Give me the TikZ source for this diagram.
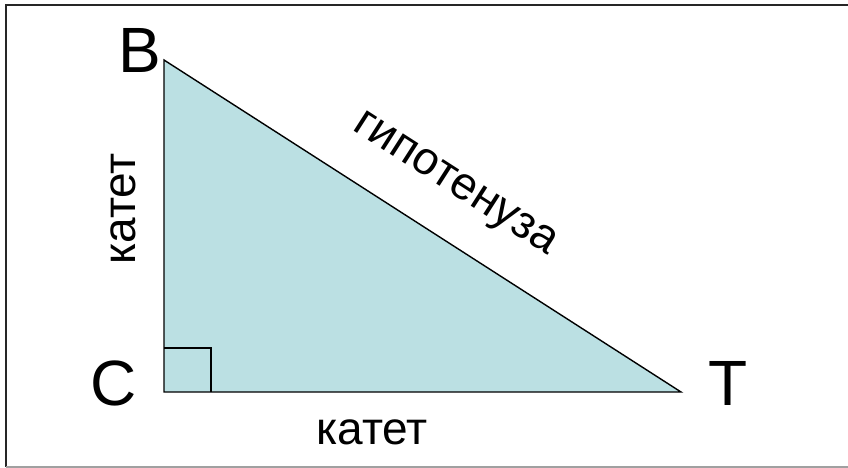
\documentclass[tikz,border=0pt]{standalone}
\usepackage{fontspec}
\setmainfont{Liberation Sans}
\usetikzlibrary{positioning}
\definecolor{triFill}{HTML}{BBE0E3}
\definecolor{frameGray}{HTML}{A0A0A0}

\begin{document}
\begin{tikzpicture}[
          x=1pt, y=-1pt,
          vlabel/.style={font=\fontsize{64}{64}\selectfont, inner sep=0pt},
          side/.style={font=\fontsize{46}{46}\selectfont, inner sep=0pt},
          edge/.style={draw=black, line width=1.4pt, line join=miter}
        ]
        \useasboundingbox (0,0) rectangle (848,468);
        % frame
        \draw[line width=1.6pt, black!85] (850,5) -- (6,5) -- (6,467);
        \draw[line width=1.2pt, frameGray] (6,467) -- (850,467);
        % triangle
        \coordinate (B) at (164,60);
        \coordinate (C) at (164,392);
        \coordinate (T) at (681,392);
        \fill[triFill] (B) -- (C) -- (T) -- cycle;
        \draw[edge] (B) -- (C) -- (T) -- cycle;
        \draw[edge] (164,348) -- (211,348) -- (211,392);
        % vertex labels
        \node[vlabel] (lb) at (140,50) {B};
        \node[vlabel] (lc) at (114,383) {C};
        \node[vlabel] (lt) at (728,383) {T};
        % side labels
        \node[side, rotate=90] (legA) at (123,209) {катет};
        \node[side] (legB) at (372,432) {катет};
        \node[side, rotate=-32.7] (hyp) at (454,186) {гипотенуза};
\end{tikzpicture}
\end{document}
